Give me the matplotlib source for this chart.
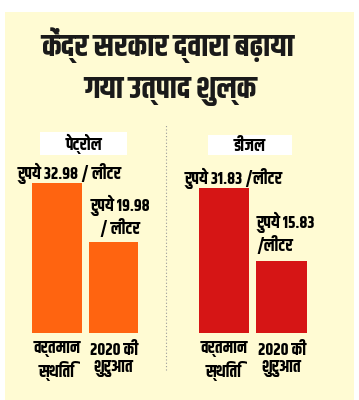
import matplotlib
matplotlib.use("Agg")
import matplotlib.pyplot as plt
from matplotlib.patches import Rectangle
from matplotlib.lines import Line2D

# data
title_lines = ["केंद्र सरकार द्वारा बढ़ाया", "गया उत्पाद शुल्क"]
fuels = ["पेट्रोल", "डीजल"]
periods = ["वर्तमान\nस्थिति", "2020 की\nशुरुआत"]
petrol_duty = [32.98, 19.98]
diesel_duty = [31.83, 15.83]
petrol_labels = ["रुपये 32.98 / लीटर", "रुपये 19.98\n/ लीटर"]
diesel_labels = ["रुपये 31.83 /लीटर", "रुपये 15.83\n/लीटर"]

# condensed devanagari face, close to the newspaper one
plt.rcParams["font.family"] = ["Khand", "DejaVu Sans"]
plt.rcParams["font.weight"] = "bold"

W, H = 359, 400
fig = plt.figure(figsize=(W / 100, H / 100), dpi=100, facecolor="white")

# yellow card behind everything
fig.patches.append(Rectangle((5 / W, 0), 349 / W, 388 / H, transform=fig.transFigure,
                             facecolor="#fffbd3", edgecolor="none", zorder=-5))

fig.text(168 / W, 1 - 45 / H, title_lines[0], ha="center", va="center",
         fontsize=22.5, color="#1a1a1a")
fig.text(170 / W, 1 - 92 / H, title_lines[1], ha="center", va="center",
         fontsize=22.5, color="#1a1a1a")

# dotted divider
fig.lines.append(Line2D([166 / W, 166 / W], [1 - 370 / H, 1 - 125 / H],
                        transform=fig.transFigure, color="#999999",
                        linestyle=(0, (1, 2)), linewidth=0.8, zorder=-1))

px_per_unit = 150 / 32.98
bottom = 67
ax_h = 40 * px_per_unit

panels = [
    (fuels[0], petrol_duty, petrol_labels, "#ff6410", 57, 56.5, (40, 132, 87, 23)),
    (fuels[1], diesel_duty, diesel_labels, "#d61515", 224, 57.5, (208, 135, 84, 20)),
]

for name, vals, labels, color, c0, step, box in panels:
    left = c0 - 0.65 * step
    ax = fig.add_axes([left / W, bottom / H, 2.45 * step / W, ax_h / H])
    ax.set_xlim(-0.65, 1.8)
    ax.set_ylim(0, 40)
    ax.set_facecolor("none")
    ax.bar([0, 1], vals, width=0.88, color=color)
    for s in ax.spines.values():
        s.set_visible(False)
    ax.set_yticks([])
    ax.set_xticks([0, 1])
    ax.set_xticklabels(periods, fontsize=12, linespacing=1.25)
    ax.tick_params(axis="x", length=0, pad=6)

    if name == fuels[0]:
        ax.text(0.22, vals[0] + 2.0, labels[0], ha="center", va="center", fontsize=12)
        ax.text(1.12, vals[1] + 1.2, labels[1], ha="center", va="bottom",
                fontsize=12, linespacing=1.1)
    else:
        ax.text(0.17, vals[0] + 2.1, labels[0], ha="center", va="center", fontsize=12)
        ax.text(0.56, vals[1] + 1.6, labels[1], ha="left", va="bottom",
                fontsize=12, linespacing=1.1)

    bx, by, bw, bh = box
    fig.patches.append(Rectangle((bx / W, 1 - (by + bh) / H), bw / W, bh / H,
                                 transform=fig.transFigure, facecolor="white",
                                 edgecolor="none", zorder=-1))
    fig.text((bx + bw / 2) / W, 1 - (by + bh / 2) / H, name, ha="center",
             va="center", fontsize=12)

fig.savefig("out.png", dpi=100)
